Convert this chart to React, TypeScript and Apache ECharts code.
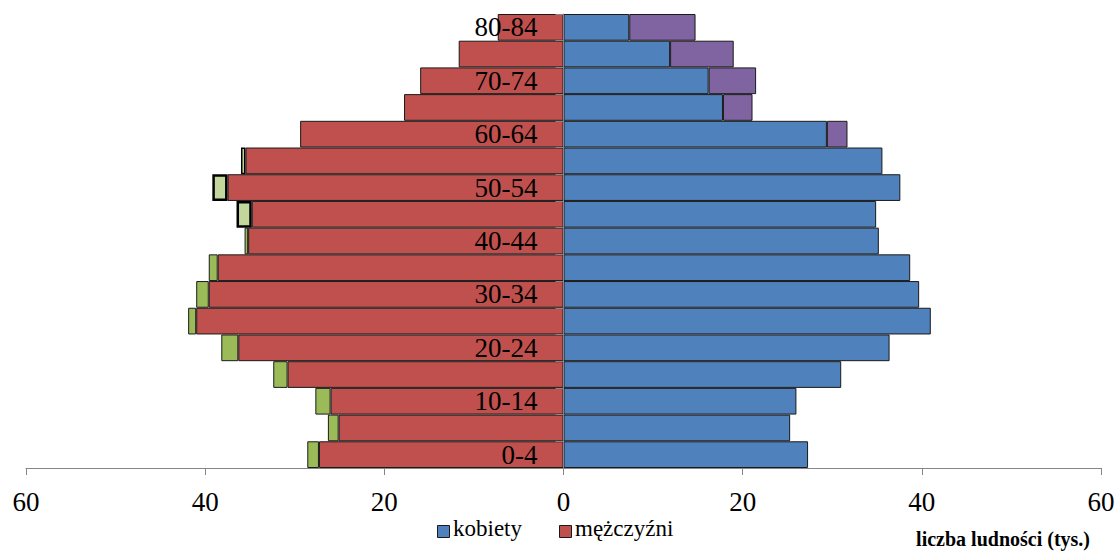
import React, { useEffect, useRef } from "react";
import * as echarts from "echarts";

const ageGroups = [
  "0-4", "5-9", "10-14", "15-19", "20-24", "25-29", "30-34", "35-39", "40-44",
  "45-49", "50-54", "55-59", "60-64", "65-69", "70-74", "75-79", "80-84",
];
// men (left) – common part shown in red
const menBase = [27.3, 25.1, 26.0, 30.8, 36.3, 41.0, 39.6, 38.6, 35.2, 34.8, 37.5, 35.5, 29.4, 17.8, 16.0, 11.7, 7.34];
// excess of men (green)
const menExcess = [1.3, 1.2, 1.7, 1.6, 1.9, 0.9, 1.4, 1.0, 0.4, 1.7, 1.7, 0.5, 0, 0, 0, 0, 0];
// women (right) – common part shown in blue
const womenBase = [27.3, 25.3, 26.0, 31.0, 36.4, 41.0, 39.7, 38.7, 35.2, 34.9, 37.6, 35.6, 29.4, 17.8, 16.2, 11.9, 7.34];
// excess of women (purple)
const womenExcess = [0, 0, 0, 0, 0, 0, 0, 0, 0, 0, 0, 0, 2.3, 3.3, 5.3, 7.1, 7.4];
const highlighted = ["45-49", "50-54", "55-59"];
const xTicks = { min: -60, max: 60, interval: 20 };
const legendNames = ["kobiety", "mężczyźni"];

const serif = "Liberation Serif";
const W = 1118;
const GRID_LEFT = 26;
const GRID_RIGHT = 17;
const BLUE = "#4f81bd";
const RED = "#c0504d";

export default function App() {
  const ref = useRef<HTMLDivElement>(null);
  useEffect(() => {
    if (!ref.current) return;
    const chart = echarts.init(ref.current, null, { renderer: "svg" });
    const border = { borderColor: "#1a1a1a", borderWidth: 1 };
    const zeroOffset = (W - GRID_LEFT - GRID_RIGHT) / 2;
    const legendItem = (x: number, color: string, name: string) => [
      {
        type: "rect",
        left: x,
        top: 525,
        shape: { width: 12, height: 12 },
        style: { fill: color, stroke: "#1a1a1a", lineWidth: 1 },
      },
      {
        type: "text",
        left: x + 16,
        top: 517,
        style: { text: name, font: `23px ${serif}`, fill: "#000" },
      },
    ];
    chart.setOption({
      animation: false,
      textStyle: { fontFamily: serif },
      grid: {
        left: GRID_LEFT,
        right: GRID_RIGHT,
        top: 14,
        bottom: 84,
        containLabel: false,
        outerBoundsMode: "none",
      },
      xAxis: {
        type: "value",
        min: xTicks.min,
        max: xTicks.max,
        interval: xTicks.interval,
        axisLine: { show: true, lineStyle: { color: "#868686", width: 1 } },
        axisTick: { show: true, length: 7, lineStyle: { color: "#868686" } },
        splitLine: { show: false },
        axisLabel: {
          margin: 20,
          fontFamily: serif,
          fontSize: 27,
          color: "#000",
          formatter: (v: number) => String(Math.abs(v)),
        },
      },
      yAxis: {
        type: "category",
        data: ageGroups,
        position: "left",
        offset: -zeroOffset,
        z: 5,
        axisLine: { show: true, onZero: false, lineStyle: { color: "#868686", width: 1 } },
        axisTick: { show: true, interval: 0, length: 8, lineStyle: { color: "#868686" } },
        axisLabel: {
          interval: 1,
          margin: 26,
          fontFamily: serif,
          fontSize: 27,
          color: "#000",
        },
      },
      series: [
        {
          name: legendNames[1],
          type: "bar",
          stack: "pop",
          barCategoryGap: "0%",
          itemStyle: { color: RED, ...border },
          data: menBase.map((v) => -v),
        },
        {
          name: "mężczyźni nadwyżka",
          type: "bar",
          stack: "pop",
          barCategoryGap: "0%",
          itemStyle: { color: "#9bbb59", ...border },
          data: menExcess.map((v, i) =>
            v > 0
              ? highlighted.includes(ageGroups[i])
                ? {
                    value: -v,
                    itemStyle: {
                      color: "#c3d69b",
                      borderColor: "#000",
                      borderWidth: ageGroups[i] === "55-59" ? 1.5 : 2.5,
                    },
                  }
                : -v
              : null
          ),
        },
        {
          name: legendNames[0],
          type: "bar",
          stack: "pop",
          barCategoryGap: "0%",
          itemStyle: { color: BLUE, ...border },
          data: womenBase,
        },
        {
          name: "kobiety nadwyżka",
          type: "bar",
          stack: "pop",
          barCategoryGap: "0%",
          itemStyle: { color: "#8064a2", ...border },
          data: womenExcess.map((v) => (v > 0 ? v : null)),
        },
      ],
      graphic: [
        ...legendItem(437, BLUE, legendNames[0]),
        ...legendItem(559, RED, legendNames[1]),
        {
          type: "text",
          right: 28,
          top: 529,
          style: {
            text: "liczba ludności (tys.)",
            font: `bold 20px ${serif}`,
            fill: "#000",
          },
        },
      ],
    });
    return () => chart.dispose();
  }, []);
  return (
    <div
      ref={ref}
      style={{ position: "absolute", left: 0, top: 0, width: W, height: 552 }}
    />
  );
}
